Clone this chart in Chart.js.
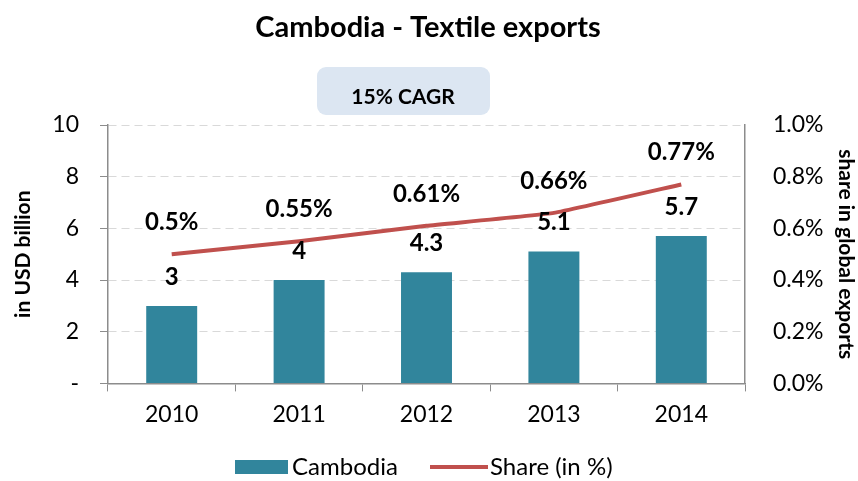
<!DOCTYPE html>
<html>
<head>
<meta charset="utf-8">
<script src="https://cdn.jsdelivr.net/npm/chart.js@4.4.1/dist/chart.umd.min.js"></script>
<style>
  html, body { margin: 0; padding: 0; background: #ffffff; }
  #wrap { width: 858px; height: 481px; position: relative; }
</style>
</head>
<body>
<div id="wrap"><canvas id="chart" width="858" height="481"></canvas></div>
<script>
// Cambodia textile exports (USD billion) and share of global textile exports (%)
const years = ['2010', '2011', '2012', '2013', '2014'];
const exportsUsdBn = [3, 4, 4.3, 5.1, 5.7];
const globalSharePct = [0.5, 0.55, 0.61, 0.66, 0.77];
const leftTicks = [0, 2, 4, 6, 8, 10];
const rightTicks = [0, 0.2, 0.4, 0.6, 0.8, 1.0];

const chartTitle = 'Cambodia - Textile exports';
const growthNote = '15% CAGR';

const BAR_COLOR = '#31859c';
const LINE_COLOR = '#c0504d';
const FONT = 'Lato, "Liberation Sans", sans-serif';

// Title, CAGR badge, value labels and legend
const decorations = {
  id: 'decorations',
  afterDatasetsDraw(chart) {
    const ctx = chart.ctx;
    ctx.save();

    // title
    ctx.fillStyle = '#000';
    ctx.font = 'bold 29px ' + FONT;
    ctx.textAlign = 'center';
    ctx.textBaseline = 'middle';
    ctx.fillText(chartTitle, 428, 28);

    // CAGR badge
    ctx.fillStyle = '#dce6f2';
    ctx.beginPath();
    ctx.roundRect(317, 67, 173, 48, 9);
    ctx.fill();
    ctx.fillStyle = '#000';
    ctx.font = 'bold 21px ' + FONT;
    ctx.fillText(growthNote, 403, 97);

    // bar value labels
    ctx.font = 'bold 24px ' + FONT;
    chart.getDatasetMeta(0).data.forEach((bar, i) => {
      ctx.fillText(String(exportsUsdBn[i]), bar.x, bar.y - 29);
    });
    // line value labels
    chart.getDatasetMeta(1).data.forEach((pt, i) => {
      ctx.fillText(globalSharePct[i] + '%', pt.x, pt.y - 32);
    });

    // legend
    const ly = 467;
    ctx.fillStyle = BAR_COLOR;
    ctx.fillRect(235, ly - 7, 53, 14);
    ctx.strokeStyle = LINE_COLOR;
    ctx.lineWidth = 4;
    ctx.beginPath();
    ctx.moveTo(430, ly);
    ctx.lineTo(488, ly);
    ctx.stroke();
    ctx.fillStyle = '#000';
    ctx.font = '24px ' + FONT;
    ctx.textAlign = 'left';
    ctx.fillText(chart.data.datasets[0].label, 292, ly);
    ctx.fillText(chart.data.datasets[1].label, 490, ly);

    ctx.restore();
  }
};

new Chart(document.getElementById('chart'), {
  data: {
    labels: years,
    datasets: [
      {
        type: 'bar',
        label: 'Cambodia',
        data: exportsUsdBn,
        backgroundColor: BAR_COLOR,
        yAxisID: 'y',
        categoryPercentage: 1,
        barPercentage: 0.4,
        order: 2
      },
      {
        type: 'line',
        label: 'Share (in %)',
        data: globalSharePct,
        borderColor: LINE_COLOR,
        borderWidth: 4,
        pointRadius: 0,
        tension: 0.1,
        yAxisID: 'y1',
        order: 1
      }
    ]
  },
  options: {
    responsive: false,
    animation: false,
    devicePixelRatio: 1,
    layout: { padding: { top: 125, bottom: 44, left: 0, right: 0 } },
    plugins: {
      legend: { display: false },
      title: { display: false },
      tooltip: { enabled: false }
    },
    scales: {
      x: {
        offset: true,
        grid: {
          offset: true,
          drawOnChartArea: false,
          color: '#8c8c8c',
          tickLength: 8
        },
        border: { display: true, color: '#8c8c8c', width: 1.5 },
        ticks: { color: '#000', font: { family: FONT, size: 23 }, padding: 9 }
      },
      y: {
        position: 'left',
        min: 0,
        max: 10,
        afterBuildTicks(scale) {
          scale.ticks = leftTicks.map(v => ({ value: v }));
        },
        afterFit(scale) { scale.width = 108; },
        grid: {
          color: '#d9d9d9',
          tickColor: '#8c8c8c',
          tickLength: 8,
          tickBorderDash: [],
          lineWidth: 1
        },
        border: { display: true, color: '#8c8c8c', width: 1.5, dash: [8, 5] },
        ticks: {
          color: '#000',
          font: { family: FONT, size: 23 },
          padding: 21,
          callback: v => (v === 0 ? '-' : String(v))
        },
        title: {
          display: true,
          text: 'in USD billion',
          color: '#000',
          font: { family: FONT, size: 21, weight: 'bold' },
          padding: { top: 11, bottom: 0 }
        }
      },
      y1: {
        position: 'right',
        min: 0,
        max: 1.0,
        afterBuildTicks(scale) {
          scale.ticks = rightTicks.map(v => ({ value: v }));
        },
        afterFit(scale) { scale.width = 113; },
        grid: { display: false },
        border: { display: true, color: '#8c8c8c', width: 1.5 },
        ticks: {
          color: '#000',
          font: { family: FONT, size: 23 },
          padding: 20,
          callback: v => v.toFixed(1) + '%'
        },
        title: {
          display: true,
          text: 'share in global exports',
          color: '#000',
          font: { family: FONT, size: 21, weight: 'bold' },
          padding: { top: 0, bottom: 0 }
        }
      }
    }
  },
  plugins: [decorations]
});
</script>
</body>
</html>
